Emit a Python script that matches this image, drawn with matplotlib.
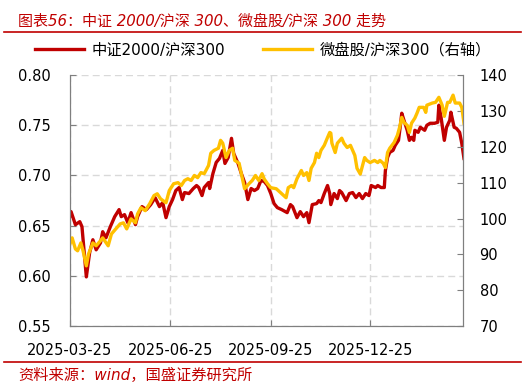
import numpy as np
import pandas as pd
import matplotlib
matplotlib.use("Agg")
import matplotlib.pyplot as plt
import matplotlib.dates as mdates
from matplotlib.lines import Line2D

plt.rcParams['font.family'] = ['DejaVu Sans', 'Noto Sans CJK SC']
plt.rcParams['axes.unicode_minus'] = False

start = pd.Timestamp("2025-03-25")
end = pd.Timestamp("2026-03-20")
tick_dates = ["2025-03-25", "2025-06-25", "2025-09-25", "2025-12-25"]

# 中证2000/沪深300 (left axis): days since 2025-03-25, ratio
zz_days = [0, 1, 5, 9, 11, 15, 18, 21, 24, 28, 30, 33, 37, 41, 45, 47, 50, 53, 56, 60,
           62, 66, 70, 74, 78, 82, 85, 88,
           91, 94, 97, 100, 103, 105, 109, 113, 116, 118, 121, 123, 127, 128, 131, 134,
           137, 140, 142, 145, 148, 150, 154, 157, 160, 163, 166, 169, 172, 175, 178,
           181, 184, 187, 190, 194, 199, 202, 204, 208, 211, 214, 217, 219, 222, 226,
           228, 230, 233, 236, 238, 239, 242, 245, 247, 249, 253, 256, 259, 262, 265, 268,
           271, 274, 276, 280, 282, 285, 288, 289, 291, 293, 296, 298, 301, 303, 304, 306,
           309, 311, 313, 315, 316, 319, 321, 325, 327, 330, 334, 337, 338, 340, 343, 345,
           348, 349, 352, 354, 357, 359, 361]
zz_vals = [0.660, 0.664, 0.651, 0.654, 0.649, 0.599, 0.623, 0.636, 0.626, 0.633, 0.644,
           0.638, 0.649, 0.659, 0.666, 0.659, 0.661, 0.653, 0.663, 0.651,
           0.659, 0.669, 0.666, 0.671, 0.678, 0.669, 0.673, 0.658,
           0.669, 0.676, 0.685, 0.688, 0.676, 0.683, 0.682, 0.687, 0.690, 0.688, 0.680,
           0.688, 0.693, 0.687, 0.702, 0.713,
           0.717, 0.725, 0.712, 0.718, 0.737, 0.722, 0.712, 0.702, 0.693, 0.676, 0.687,
           0.685, 0.687, 0.695, 0.694,
           0.690, 0.682, 0.672, 0.668, 0.666, 0.663, 0.671, 0.669, 0.658, 0.664, 0.659,
           0.663, 0.653, 0.671, 0.672,
           0.675, 0.673, 0.682, 0.690, 0.682, 0.671, 0.682, 0.677, 0.685, 0.683, 0.675,
           0.682, 0.683, 0.678, 0.682, 0.677,
           0.682, 0.680, 0.690, 0.688, 0.690, 0.688, 0.688, 0.705, 0.718, 0.723, 0.725,
           0.730, 0.735, 0.752, 0.762, 0.755,
           0.745, 0.735, 0.738, 0.735, 0.745, 0.743, 0.748, 0.745, 0.750, 0.752, 0.752,
           0.753, 0.770, 0.758, 0.735, 0.748,
           0.755, 0.763, 0.748, 0.747, 0.743, 0.732, 0.717]

# 微盘股/沪深300 (right axis)
wp_days = [0, 2, 5, 7, 10, 12, 15, 17, 21, 24, 28, 30, 35, 38, 42, 46, 49, 52, 56, 60,
           62, 65, 69, 73, 77, 80, 83,
           88, 91, 95, 99, 102, 105, 108, 111, 114, 117, 120, 123, 127, 129, 132, 136,
           138, 140, 143, 146, 149, 151, 155, 158, 160, 164, 167, 170, 173, 176, 178,
           181, 184, 189, 193, 198, 200, 203, 205, 208, 212, 214, 217, 219, 221, 224,
           226, 228, 230, 233, 236, 238, 239, 240, 243, 245, 249, 251, 254, 257, 259,
           261, 263, 266, 270,
           272, 275, 279, 282, 284, 287, 289, 291, 293, 297, 300, 302, 304, 306, 309,
           311, 313, 316, 318, 320, 324, 326, 327, 332, 335, 338, 341, 343, 346, 348,
           351, 353, 357, 359, 361]
wp_vals = [92.9, 94.6, 91.5, 91.0, 93.2, 91.0, 86.8, 90.1, 93.2, 92.4, 93.8, 94.6, 92.4,
           95.7, 97.1, 98.5, 98.8, 97.1, 99.9, 98.8,
           101.3, 103.0, 102.2, 104.1, 106.4, 106.9, 105.5,
           104.4, 107.8, 109.7, 110.0, 109.2, 110.6, 111.1, 110.6, 112.0, 111.4, 112.8,
           112.5, 114.8, 118.2, 119.0, 119.6,
           121.8, 121.0, 117.0, 119.0, 119.6, 116.2, 115.4, 111.1, 108.3, 109.7, 110.6,
           112.0, 110.6, 112.5, 111.0,
           109.7, 108.6, 108.3, 107.2, 105.8, 108.6, 109.2, 108.6, 111.1, 113.4, 112.0,
           112.8, 110.6, 114.0, 115.6,
           118.2, 117.0, 119.0, 120.4, 122.6, 124.0, 123.8, 121.0, 118.4, 121.0, 122.4,
           121.0, 119.8, 120.4, 119.0,
           117.6, 114.0, 112.4, 117.0,
           116.2, 115.6, 116.2, 115.6, 116.2, 115.4, 114.2, 118.4, 119.6, 121.2, 123.2,
           125.4, 128.2, 126.8, 126.0,
           124.0, 126.6, 128.0, 129.4, 131.0, 131.0, 129.6, 131.6, 132.2, 132.4, 133.8,
           131.6, 128.5, 132.4, 132.4,
           134.4, 132.2, 132.2, 131.0, 126.6]

zz_x = start + pd.to_timedelta(zz_days, unit="D")
wp_x = start + pd.to_timedelta(wp_days, unit="D")

red = "#C00000"
gold = "#FFC000"
grid_c = "#D9D9D9"
spine_c = "#7F7F7F"

fig = plt.figure(figsize=(5.26, 3.85), dpi=100)
ax = fig.add_axes([0.133, 0.153, 0.747, 0.652])
ax2 = ax.twinx()

l1, = ax.plot(zz_x, zz_vals, color=red, lw=2.4, label="中证2000/沪深300")
l2, = ax2.plot(wp_x, wp_vals, color=gold, lw=2.4, label="微盘股/沪深300（右轴）")

ax.set_ylim(0.55, 0.80)
ax.set_yticks(np.arange(0.55, 0.801, 0.05))
ax.yaxis.set_major_formatter(plt.FuncFormatter(lambda v, p: f"{v:.2f}"))
ax2.set_ylim(70, 140)
ax2.set_yticks(range(70, 141, 10))
ax.set_xlim(start, end)
ax.set_xticks(pd.to_datetime(tick_dates))
ax.xaxis.set_major_formatter(mdates.DateFormatter("%Y-%m-%d"))

ax.grid(True, color=grid_c, linestyle=(0, (5, 3)), linewidth=1.0)
ax.set_axisbelow(True)

for a in (ax, ax2):
    a.spines["top"].set_visible(False)
    for s in ("left", "right", "bottom"):
        a.spines[s].set_color(spine_c)
    a.tick_params(direction="in", length=4, color=spine_c, labelsize=10.5,
                  labelcolor="black")
ax.tick_params(axis="x", pad=12)
ax.tick_params(axis="y", pad=14)
ax2.tick_params(axis="y", pad=12)

fig.legend(handles=[l1, l2], loc="center", bbox_to_anchor=(0.5, 0.87), ncol=2,
           frameon=False, fontsize=11, handlelength=3.2, columnspacing=2.5,
           handletextpad=0.5)

fig.text(0.034, 0.945, "图表56：中证 2000/沪深 300、微盘股/沪深 300 走势", color=red,
         fontsize=10.8, style="italic", va="center", ha="left")
fig.add_artist(Line2D([0.008, 0.99], [0.917, 0.917], color=red, lw=1.2))
fig.add_artist(Line2D([0.008, 0.99], [0.060, 0.060], color=red, lw=1.2))
fig.text(0.034, 0.026, "资料来源：wind，国盛证券研究所", color=red, fontsize=11,
         style="italic", va="center", ha="left")

fig.savefig("out.png", dpi=100)
